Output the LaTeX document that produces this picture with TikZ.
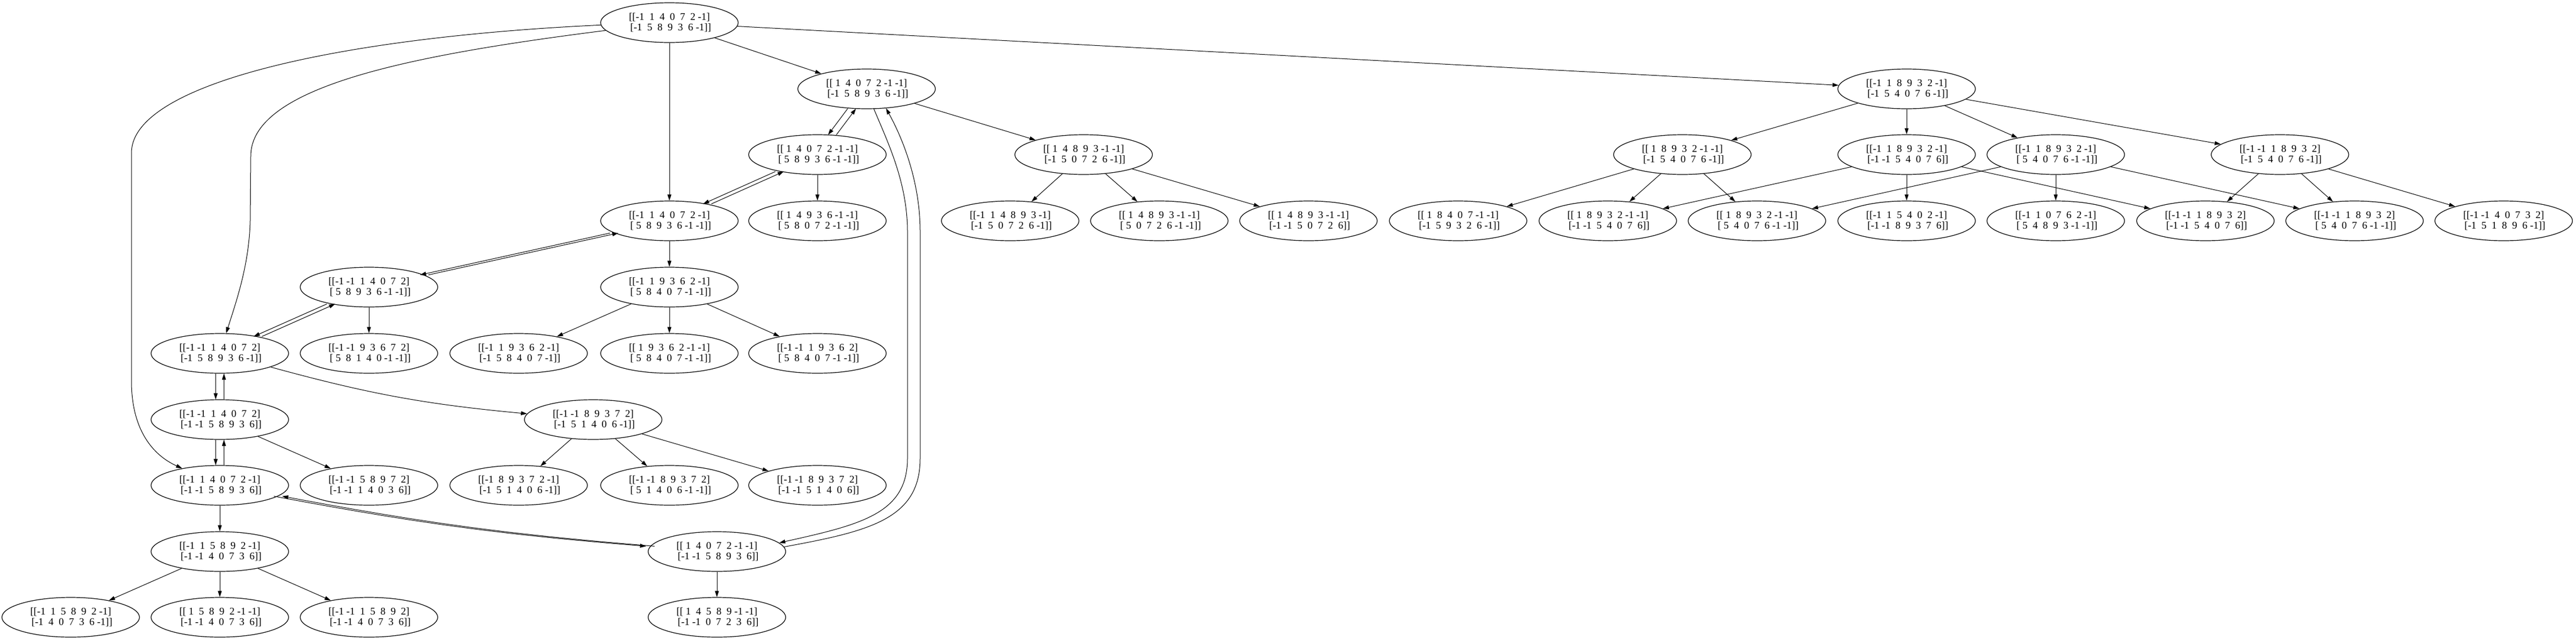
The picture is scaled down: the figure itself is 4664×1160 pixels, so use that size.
\documentclass[tikz,border=0pt]{standalone}
\usepackage{fontspec}
\setmainfont{Liberation Serif}
\usetikzlibrary{arrows.meta,shapes.geometric}
\newcommand\en[1]{\ifnum#1<0 #1\else\ #1\fi}
\def\rw#1 #2 #3 #4 #5 #6 #7\relax{\en{#1}\ \en{#2}\ \en{#3}\ \en{#4}\ \en{#5}\ \en{#6}\ \en{#7}}
\newcommand\lab[2]{[[\rw#1\relax]\\\hspace*{.25em}[\rw#2\relax]]}
\tikzset{
  st/.style={draw, ellipse, line width=1.2pt, minimum width=249pt, minimum height=72pt,
    inner sep=0pt, align=center, font=\fontsize{18.5}{19.5}\selectfont},
  ar/.style={-{Triangle[length=11pt,width=7pt]}, line width=1.0pt},
  fl/.style={ar, transform canvas={xshift=-7.5pt}},
  bl/.style={ar, transform canvas={xshift=7.5pt}},
}
\begin{document}
\begin{tikzpicture}[x=1pt,y=-1pt]
\useasboundingbox (0,0) rectangle (4664,1160);
% level 0
\node[st] (R) at (1212,41) {\lab{-1 1 4 0 7 2 -1}{-1 5 8 9 3 6 -1}};
% level 1
\node[st] (A1) at (1569,161) {\lab{1 4 0 7 2 -1 -1}{-1 5 8 9 3 6 -1}};
\node[st] (A2) at (3452,161) {\lab{-1 1 8 9 3 2 -1}{-1 5 4 0 7 6 -1}};
% level 2
\node[st] (B1) at (1480,280) {\lab{1 4 0 7 2 -1 -1}{5 8 9 3 6 -1 -1}};
\node[st] (B2) at (1962,280) {\lab{1 4 8 9 3 -1 -1}{-1 5 0 7 2 6 -1}};
\node[st] (B3) at (3046,280) {\lab{1 8 9 3 2 -1 -1}{-1 5 4 0 7 6 -1}};
\node[st] (B4) at (3452,280) {\lab{-1 1 8 9 3 2 -1}{-1 -1 5 4 0 7 6}};
\node[st] (B5) at (3722,280) {\lab{-1 1 8 9 3 2 -1}{5 4 0 7 6 -1 -1}};
\node[st] (B6) at (4128,280) {\lab{-1 -1 1 8 9 3 2}{-1 5 4 0 7 6 -1}};
% level 3
\node[st] (C1) at (1212,400) {\lab{-1 1 4 0 7 2 -1}{5 8 9 3 6 -1 -1}};
\node[st] (C2) at (1480,400) {\lab{1 4 9 3 6 -1 -1}{5 8 0 7 2 -1 -1}};
\node[st] (C3) at (1829,400) {\lab{-1 1 4 8 9 3 -1}{-1 5 0 7 2 6 -1}};
\node[st] (C4) at (2099,400) {\lab{1 4 8 9 3 -1 -1}{5 0 7 2 6 -1 -1}};
\node[st] (C5) at (2369,400) {\lab{1 4 8 9 3 -1 -1}{-1 -1 5 0 7 2 6}};
\node[st] (C6) at (2640,400) {\lab{1 8 4 0 7 -1 -1}{-1 5 9 3 2 6 -1}};
\node[st] (C7) at (2911,400) {\lab{1 8 9 3 2 -1 -1}{-1 -1 5 4 0 7 6}};
\node[st] (C8) at (3181,400) {\lab{1 8 9 3 2 -1 -1}{5 4 0 7 6 -1 -1}};
\node[st] (C9) at (3452,400) {\lab{-1 1 5 4 0 2 -1}{-1 -1 8 9 3 7 6}};
\node[st] (C10) at (3722,400) {\lab{-1 1 0 7 6 2 -1}{5 4 8 9 3 -1 -1}};
\node[st] (C11) at (3993,400) {\lab{-1 -1 1 8 9 3 2}{-1 -1 5 4 0 7 6}};
\node[st] (C12) at (4263,400) {\lab{-1 -1 1 8 9 3 2}{5 4 0 7 6 -1 -1}};
\node[st] (C13) at (4533,400) {\lab{-1 -1 4 0 7 3 2}{-1 5 1 8 9 6 -1}};
% level 4
\node[st] (D1) at (668,520) {\lab{-1 -1 1 4 0 7 2}{5 8 9 3 6 -1 -1}};
\node[st] (D2) at (1212,520) {\lab{-1 1 9 3 6 2 -1}{5 8 4 0 7 -1 -1}};
% level 5
\node[st] (E1) at (398,640) {\lab{-1 -1 1 4 0 7 2}{-1 5 8 9 3 6 -1}};
\node[st] (E2) at (668,640) {\lab{-1 -1 9 3 6 7 2}{5 8 1 4 0 -1 -1}};
\node[st] (E3) at (939,640) {\lab{-1 1 9 3 6 2 -1}{-1 5 8 4 0 7 -1}};
\node[st] (E4) at (1212,640) {\lab{1 9 3 6 2 -1 -1}{5 8 4 0 7 -1 -1}};
\node[st] (E5) at (1480,640) {\lab{-1 -1 1 9 3 6 2}{5 8 4 0 7 -1 -1}};
% level 6
\node[st] (F1) at (398,760) {\lab{-1 -1 1 4 0 7 2}{-1 -1 5 8 9 3 6}};
\node[st] (F2) at (1074,760) {\lab{-1 -1 8 9 3 7 2}{-1 5 1 4 0 6 -1}};
% level 7
\node[st] (G1) at (398,879) {\lab{-1 1 4 0 7 2 -1}{-1 -1 5 8 9 3 6}};
\node[st] (G2) at (668,879) {\lab{-1 -1 5 8 9 7 2}{-1 -1 1 4 0 3 6}};
\node[st] (G3) at (939,879) {\lab{-1 8 9 3 7 2 -1}{-1 5 1 4 0 6 -1}};
\node[st] (G4) at (1212,879) {\lab{-1 -1 8 9 3 7 2}{5 1 4 0 6 -1 -1}};
\node[st] (G5) at (1480,879) {\lab{-1 -1 8 9 3 7 2}{-1 -1 5 1 4 0 6}};
% level 8
\node[st] (H1) at (398,999) {\lab{-1 1 5 8 9 2 -1}{-1 -1 4 0 7 3 6}};
\node[st] (H2) at (1298,999) {\lab{1 4 0 7 2 -1 -1}{-1 -1 5 8 9 3 6}};
% level 9
\node[st] (I1) at (128,1118) {\lab{-1 1 5 8 9 2 -1}{-1 4 0 7 3 6 -1}};
\node[st] (I2) at (398,1118) {\lab{1 5 8 9 2 -1 -1}{-1 -1 4 0 7 3 6}};
\node[st] (I3) at (668,1118) {\lab{-1 -1 1 5 8 9 2}{-1 -1 4 0 7 3 6}};
\node[st] (I4) at (1298,1118) {\lab{1 4 5 8 9 -1 -1}{-1 -1 0 7 2 3 6}};

% edges from root
\draw[ar] (R) -- (A1);
\draw[ar] (R) -- (A2);
\draw[ar] (R) -- (C1);
\draw[ar] (R.187) .. controls (742,100) and (454,157) .. (454,283) -- (453,400)
  .. controls (451,480) and (428,545) .. (E1);
\draw[ar] (R.182) .. controls (620,67) and (238,150) .. (238,277) -- (238,690)
  .. controls (238,780) and (278,825) .. (G1);
% A1
\draw[fl] (A1) -- (B1);
\draw[bl] (B1) -- (A1);
\draw[ar] (A1) -- (B2);
\draw[ar] (A1.-70) .. controls (1607,257) and (1643,330) .. (1643,420) -- (1643,830)
  .. controls (1643,930) and (1560,950) .. (H2.8);
\draw[ar] (H2.4) .. controls (1575,962) and (1666,940) .. (1666,830) -- (1666,420)
  .. controls (1666,330) and (1635,252) .. (A1.-45);
% B1, B2
\draw[fl] (B1) -- (C1);
\draw[bl] (C1) -- (B1);
\draw[ar] (B1) -- (C2);
\draw[ar] (B2) -- (C3);
\draw[ar] (B2) -- (C4);
\draw[ar] (B2) -- (C5);
% A2 subtree
\draw[ar] (A2) -- (B3);
\draw[ar] (A2) -- (B4);
\draw[ar] (A2) -- (B5);
\draw[ar] (A2) -- (B6);
\draw[ar] (B3) -- (C6);
\draw[ar] (B3) -- (C7);
\draw[ar] (B3) -- (C8);
\draw[ar] (B4) -- (C7);
\draw[ar] (B4) -- (C9);
\draw[ar] (B4) -- (C11);
\draw[ar] (B5) -- (C8);
\draw[ar] (B5) -- (C10);
\draw[ar] (B5) -- (C12);
\draw[ar] (B6) -- (C11);
\draw[ar] (B6) -- (C12);
\draw[ar] (B6) -- (C13);
% C1
\draw[fl] (C1) -- (D1);
\draw[bl] (D1) -- (C1);
\draw[ar] (C1) -- (D2);
% D
\draw[fl] (D1) -- (E1);
\draw[bl] (E1) -- (D1);
\draw[ar] (D1) -- (E2);
\draw[ar] (D2) -- (E3);
\draw[ar] (D2) -- (E4);
\draw[ar] (D2) -- (E5);
% E
\draw[fl] (E1) -- (F1);
\draw[bl] (F1) -- (E1);
\draw[ar] (E1) to[bend right=5] (F2);
% F
\draw[fl] (F1) -- (G1);
\draw[bl] (G1) -- (F1);
\draw[ar] (F1) -- (G2);
\draw[ar] (F2) -- (G3);
\draw[ar] (F2) -- (G4);
\draw[ar] (F2) -- (G5);
% G
\draw[ar] (G1) -- (H1);
\draw[fl] (G1) to[bend right=3] (H2);
\draw[bl] (H2) to[bend left=3] (G1);
% H
\draw[ar] (H1) -- (I1);
\draw[ar] (H1) -- (I2);
\draw[ar] (H1) -- (I3);
\draw[ar] (H2) -- (I4);
\end{tikzpicture}
\end{document}
